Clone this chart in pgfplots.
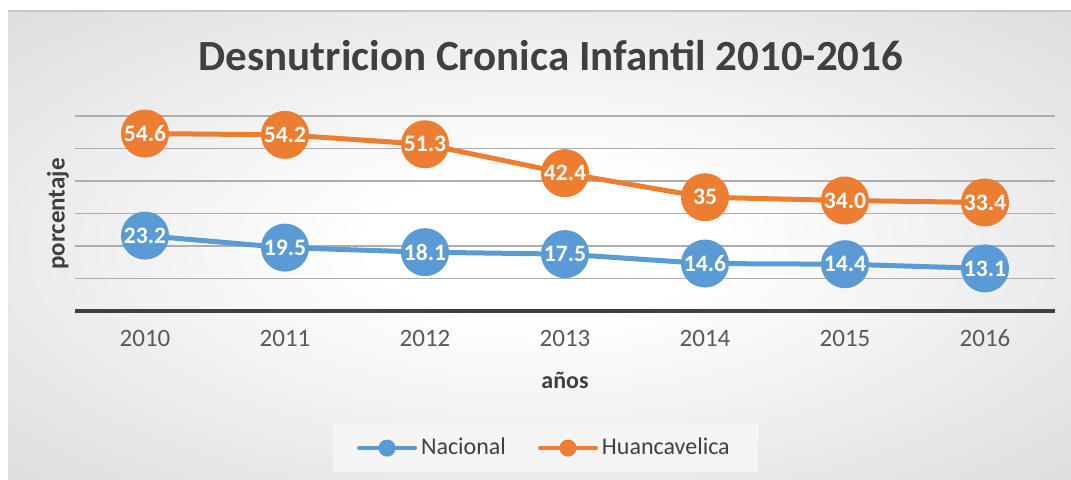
\documentclass[border=0pt]{standalone}
\usepackage{pgfplots}
\pgfplotsset{compat=1.18}
\usepackage{fontspec}
\setmainfont{Carlito}
\definecolor{nacional}{HTML}{5B9BD5}
\definecolor{huanca}{HTML}{ED7D31}
\definecolor{txt}{HTML}{404040}
\definecolor{tick}{HTML}{595959}
\pgfdeclareradialshading{bgshade}{\pgfpoint{0bp}{0bp}}{color(0bp)=(white); color(8bp)=(white); color(50bp)=(black!20); color(70bp)=(black!25)}

\begin{document}
\begin{tikzpicture}
\path[use as bounding box] (0,0) rectangle (535.5pt,239.5pt);
\fill[white] (0,0) rectangle (535.5pt,239.5pt);
\shade[shading=bgshade] (4pt,0pt) rectangle (535.5pt,234pt);
\draw[black!22, line width=0.6pt] (4pt,234pt) -- (535.5pt,234pt);
\begin{axis}[
  at={(37.5pt,84pt)}, anchor=south west,
  scale only axis, width=490pt, height=97.5pt,
  clip=false,
  xmin=-0.5, xmax=6.5, ymin=0, ymax=60,
  xtick={0,...,6},
  xticklabels={2010,2011,2012,2013,2014,2015,2016},
  ytick={0,10,...,60}, yticklabels={},
  major tick length=0pt,
  ymajorgrids, grid style={black!32, line width=0.6pt},
  axis x line*=bottom, axis y line*=left,
  y axis line style={draw=none},
  x axis line style={-, line width=1.6pt, color=txt},
  xticklabel style={font=\fontsize{12.5}{14}\selectfont, text=tick, yshift=-6pt},
  title={Desnutricion Cronica Infantil 2010-2016},
  title style={at={(axis description cs:0.4857,1.246)}, anchor=center, font=\bfseries\fontsize{21.5}{24}\selectfont, text=txt},
  xlabel={años},
  xlabel style={at={(axis description cs:0.5,-0.354)}, anchor=center, font=\bfseries\fontsize{12}{14}\selectfont, text=txt},
  ylabel={porcentaje},
  ylabel style={at={(axis description cs:-0.0173,0.497)}, anchor=center, font=\bfseries\fontsize{12.5}{14}\selectfont, text=txt},
  point meta=explicit symbolic,
  nodes near coords,
  every node near coord/.append style={anchor=center, inner sep=0pt, text=white, font=\bfseries\fontsize{11.8}{13}\selectfont},
  legend columns=2,
  legend style={at={(axis description cs:0.48,-0.703)}, anchor=center, draw=none, fill=black!4,
    font=\fontsize{12}{14}\selectfont, text=txt, inner xsep=12pt, inner ysep=5pt,
    /tikz/every even column/.append style={column sep=14pt}},
  legend image code/.code={
    \draw[line width=2pt, line cap=round] (0pt,0pt) -- (28pt,0pt);
    \fill (14pt,0pt) circle (3pt);
  },
]
\addplot[color=nacional, line width=2.5pt, mark=*, mark size=10.75pt, mark options={draw=none}]
  coordinates {(0,23.2)[23.2] (1,19.5)[19.5] (2,18.1)[18.1] (3,17.5)[17.5] (4,14.6)[14.6] (5,14.4)[14.4] (6,13.1)[13.1]};
\addlegendentry{Nacional}
\addplot[color=huanca, line width=2.5pt, mark=*, mark size=10.75pt, mark options={draw=none}]
  coordinates {(0,54.6)[54.6] (1,54.2)[54.2] (2,51.3)[51.3] (3,42.4)[42.4] (4,35)[35] (5,34.0)[34.0] (6,33.4)[33.4]};
\addlegendentry{Huancavelica}
\end{axis}
\end{tikzpicture}
\end{document}
